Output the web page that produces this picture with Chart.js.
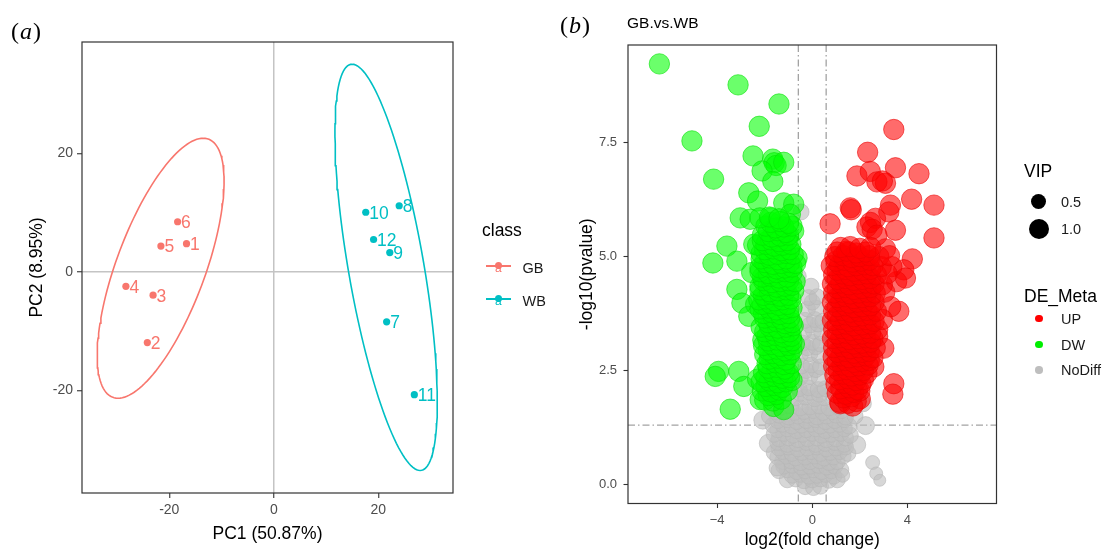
<!DOCTYPE html>
<html>
<head>
<meta charset="utf-8">
<title>PCA / volcano GB vs WB</title>
<script src="https://cdn.jsdelivr.net/npm/chart.js@4.4.1/dist/chart.umd.min.js"></script>
<style>
body{margin:0;background:#fff;font-family:"Liberation Sans",Arial,sans-serif;}
#page{position:relative;width:1108px;height:556px;overflow:hidden;background:#fff;}
#cA{position:absolute;left:0;top:0;}
#cB{position:absolute;left:555px;top:0;}
.t{position:absolute;white-space:nowrap;}
.panel{font-family:"Liberation Serif","Times New Roman",serif;font-size:24px;line-height:30px;color:#000;letter-spacing:1px;}
.ltitle{font-size:17.5px;line-height:22px;color:#000;}
.ltext{font-size:14.5px;line-height:20px;color:#1a1a1a;}
.dot{position:absolute;border-radius:50%;}
.kline{position:absolute;height:2px;}
.ka{position:absolute;font-size:12px;line-height:12px;}
</style>
</head>
<body>
<div id="page">
  <canvas id="cA" width="555" height="556"></canvas>
  <canvas id="cB" width="553" height="556"></canvas>

  <div class="t panel" style="left:11px;top:16px;">(<i>a</i>)</div>
  <div class="t panel" style="left:560px;top:10px;">(<i>b</i>)</div>
  <div class="t" style="left:627px;top:13px;font-size:15.5px;line-height:20px;color:#000;">GB.vs.WB</div>

  <!-- legend of panel a -->
  <div class="t ltitle" style="left:482px;top:219px;">class</div>
  <div class="kline" style="left:486px;top:264.5px;width:25px;background:#F8766D;"></div>
  <div class="dot" style="left:494.5px;top:261.5px;width:7.5px;height:7.5px;background:#F8766D;"></div>
  <div class="ka" style="left:495px;top:262px;color:#F8766D;">a</div>
  <div class="t ltext" style="left:522.5px;top:257.5px;">GB</div>
  <div class="kline" style="left:486px;top:297.5px;width:25px;background:#00BFC4;"></div>
  <div class="dot" style="left:494.5px;top:294.5px;width:7.5px;height:7.5px;background:#00BFC4;"></div>
  <div class="ka" style="left:495px;top:295px;color:#00BFC4;">a</div>
  <div class="t ltext" style="left:522.5px;top:291px;">WB</div>

  <!-- legends of panel b -->
  <div class="t ltitle" style="left:1024px;top:159.5px;">VIP</div>
  <div class="dot" style="left:1031px;top:194px;width:15px;height:15px;background:#000;"></div>
  <div class="t ltext" style="left:1061px;top:192px;">0.5</div>
  <div class="dot" style="left:1028.5px;top:219px;width:20px;height:20px;background:#000;"></div>
  <div class="t ltext" style="left:1061px;top:219px;">1.0</div>

  <div class="t ltitle" style="left:1024px;top:284.5px;">DE_Meta</div>
  <div class="dot" style="left:1035px;top:314.5px;width:7.5px;height:7.5px;background:#FF0000;"></div>
  <div class="t ltext" style="left:1061px;top:308.5px;">UP</div>
  <div class="dot" style="left:1035px;top:340.5px;width:7.5px;height:7.5px;background:#00EE00;"></div>
  <div class="t ltext" style="left:1061px;top:334.5px;">DW</div>
  <div class="dot" style="left:1035px;top:366px;width:7.5px;height:7.5px;background:#BEBEBE;"></div>
  <div class="t ltext" style="left:1061px;top:360px;">NoDiff</div>
</div>

<script>
// ---------- panel (a): PCA scores ----------
var gbLabels = ['1','2','3','4','5','6'];
var gbPC1 = [-16.7, -24.2, -23.1, -28.3, -21.6, -18.4];
var gbPC2 = [4.8, -11.9, -3.9, -2.4, 4.4, 8.5];
var wbLabels = ['7','8','9','10','11','12'];
var wbPC1 = [21.6, 24.0, 22.2, 17.6, 26.9, 19.1];
var wbPC2 = [-8.4, 11.2, 3.3, 10.1, -20.7, 5.5];
// ellipses: centre x, centre y, half axis to top point (dx, dy), half width at centre height
var gbEllipse = [-21.65, 0.65, 8.15, 21.95, 9.0];
var wbEllipse = [21.5, 0.8, -6.5, 34.3, 7.33];
var pcaTicks = [-20, 0, 20];

// ---------- panel (b): volcano ----------
var fcCut = 0.585;   // log2(1.5)
var pCut = 1.301;    // -log10(0.05)
var volXTicks = [-4, 0, 4];
var volYTicks = [0, 2.5, 5, 7.5];

var upPoints = [
  [3.43,7.79],[2.33,7.29],[1.88,6.77],[2.44,6.87],[3.50,6.95],[4.49,6.82],[2.72,6.64],[3.08,6.61],[2.95,6.66],
  [4.18,6.26],[5.12,6.13],[1.60,6.07],[1.64,6.03],[3.29,6.13],[0.75,5.72],[3.22,5.98],[2.66,5.84],[2.30,5.65],
  [2.45,5.75],[2.52,5.60],[3.50,5.58],[5.12,5.41],[2.72,5.47],[4.21,4.95],[3.08,5.17],[1.53,5.10],[3.85,4.71],
  [3.55,4.45],[3.92,4.53],[3.35,4.78],[3.64,3.80],[3.30,3.90],[3.43,2.21],[3.39,1.98],[3.01,2.99],[2.59,2.58],
  [2.75,3.25],[2.02,1.88],[1.18,1.77],[1.70,1.72],
  [1.15,1.80],[1.50,1.78],[1.85,1.82],[1.30,1.90],[1.65,1.92],
  [1.05,2.00],[1.40,1.98],[1.75,2.02],[2.00,2.05],[1.20,2.10],[1.55,2.12],[1.90,2.08],
  [1.00,2.20],[1.35,2.22],[1.70,2.18],[2.05,2.20],[1.15,2.30],[1.50,2.32],[1.85,2.28],[2.15,2.30],
  [0.95,2.40],[1.30,2.42],[1.65,2.38],[2.00,2.40],[2.30,2.44],[1.10,2.50],[1.45,2.52],[1.80,2.48],[2.15,2.50],
  [0.90,2.60],[1.25,2.62],[1.60,2.58],[1.95,2.60],[2.35,2.62],[1.05,2.70],[1.40,2.72],[1.75,2.68],[2.10,2.70],[2.40,2.72],
  [0.88,2.80],[1.20,2.82],[1.55,2.78],[1.90,2.80],[2.25,2.82],[2.55,2.78],[1.05,2.90],[1.40,2.92],[1.75,2.88],[2.10,2.90],[2.40,2.92],
  [0.90,3.00],[1.25,3.02],[1.60,2.98],[1.95,3.00],[2.30,3.02],[2.65,3.00],[1.05,3.10],[1.40,3.12],[1.75,3.08],[2.10,3.10],[2.45,3.12],
  [0.85,3.20],[1.20,3.22],[1.55,3.18],[1.90,3.20],[2.25,3.22],[2.55,3.20],[1.05,3.30],[1.40,3.32],[1.75,3.28],[2.10,3.30],[2.45,3.32],
  [0.90,3.40],[1.25,3.42],[1.60,3.38],[1.95,3.40],[2.30,3.42],[2.75,3.40],[1.05,3.50],[1.40,3.52],[1.75,3.48],[2.10,3.50],[2.45,3.52],
  [0.85,3.60],[1.20,3.62],[1.55,3.58],[1.90,3.60],[2.25,3.62],[2.60,3.58],[2.95,3.62],[1.05,3.70],[1.40,3.72],[1.75,3.68],[2.10,3.70],[2.45,3.72],
  [0.90,3.80],[1.25,3.82],[1.60,3.78],[1.95,3.80],[2.30,3.82],[2.70,3.80],[1.05,3.90],[1.40,3.92],[1.75,3.88],[2.10,3.90],[2.45,3.92],
  [0.85,4.00],[1.20,4.02],[1.55,3.98],[1.90,4.00],[2.25,4.02],[2.60,4.00],[1.05,4.10],[1.40,4.12],[1.75,4.08],[2.10,4.10],[2.45,4.12],
  [0.90,4.20],[1.25,4.22],[1.60,4.18],[1.95,4.20],[2.30,4.22],[2.65,4.20],[3.05,4.22],[1.05,4.30],[1.40,4.32],[1.75,4.28],[2.10,4.30],[2.45,4.32],
  [0.85,4.40],[1.20,4.42],[1.55,4.38],[1.90,4.40],[2.25,4.42],[2.60,4.40],[2.95,4.38],[1.05,4.50],[1.40,4.52],[1.75,4.48],[2.10,4.50],[2.45,4.52],
  [0.90,4.60],[1.25,4.62],[1.60,4.58],[1.95,4.60],[2.30,4.62],[2.70,4.60],[3.15,4.62],[1.05,4.70],[1.40,4.72],[1.75,4.68],[2.10,4.70],[2.45,4.72],
  [0.80,4.80],[1.15,4.82],[1.50,4.78],[1.85,4.80],[2.20,4.82],[2.55,4.80],[2.90,4.78],[1.00,4.90],[1.35,4.92],[1.70,4.88],[2.05,4.90],[2.40,4.92],
  [0.95,5.00],[1.30,5.02],[1.65,4.98],[2.00,5.00],[2.40,5.02],[2.80,5.00],[3.25,5.02],[1.05,5.10],[1.45,5.12],[1.85,5.08],[2.25,5.10],
  [1.20,5.20],[1.60,5.22],[2.00,5.18],[2.45,5.20]
];

var dwPoints = [
  [-6.43,9.23],[-3.12,8.77],[-1.40,8.35],[-2.23,7.86],[-5.06,7.54],[-2.49,7.21],[-1.66,7.14],[-1.60,7.06],
  [-1.52,7.00],[-1.20,7.07],[-2.11,6.88],[-1.66,6.65],[-4.15,6.70],[-2.67,6.40],[-2.30,6.22],[-1.20,6.18],
  [-0.78,6.15],[-3.03,5.85],[-2.61,5.82],[-1.76,5.85],[-0.92,5.93],[-1.48,5.63],[-3.59,5.23],[-4.18,4.86],
  [-3.17,4.90],[-2.46,5.27],[-1.90,5.34],[-0.78,5.56],[-0.64,4.97],[-3.17,4.28],[-2.96,3.98],[-2.67,3.69],
  [-2.38,3.95],[-3.94,2.48],[-4.08,2.37],[-3.09,2.48],[-2.88,2.15],[-3.45,1.65],[-1.62,1.71],[-1.20,1.64],
  [-2.19,1.86],[-2.30,2.31],[-2.08,3.17],[-1.78,2.85],
  [-2.00,1.85],[-1.65,1.83],[-1.30,1.87],[-1.85,1.95],[-1.50,1.97],
  [-2.10,2.05],[-1.75,2.03],[-1.40,2.07],[-1.05,2.05],[-1.95,2.15],[-1.60,2.17],[-1.25,2.13],
  [-2.15,2.25],[-1.80,2.27],[-1.45,2.23],[-1.10,2.25],[-0.85,2.28],[-1.95,2.35],[-1.60,2.37],[-1.25,2.33],[-0.95,2.35],
  [-2.05,2.45],[-1.70,2.47],[-1.35,2.43],[-1.00,2.45],[-1.85,2.55],[-1.50,2.57],[-1.15,2.53],
  [-1.90,2.65],[-1.55,2.67],[-1.20,2.63],[-0.88,2.65],[-1.80,2.75],[-1.45,2.77],[-1.10,2.73],
  [-2.00,2.85],[-1.65,2.87],[-1.30,2.83],[-0.95,2.85],[-1.85,2.95],[-1.50,2.97],[-1.15,2.93],[-0.85,2.95],
  [-2.05,3.05],[-1.70,3.07],[-1.35,3.03],[-1.00,3.05],[-0.75,3.08],[-1.85,3.15],[-1.50,3.17],[-1.15,3.13],[-0.85,3.15],
  [-1.90,3.25],[-1.55,3.27],[-1.20,3.23],[-0.88,3.25],[-2.00,3.35],[-1.65,3.37],[-1.30,3.33],[-0.95,3.35],
  [-2.15,3.45],[-1.80,3.47],[-1.45,3.43],[-1.10,3.45],[-0.80,3.48],[-1.85,3.55],[-1.50,3.57],[-1.15,3.53],[-0.85,3.55],
  [-2.00,3.65],[-1.65,3.67],[-1.30,3.63],[-0.95,3.65],[-2.05,3.75],[-1.70,3.77],[-1.35,3.73],[-1.00,3.75],
  [-2.20,3.85],[-1.85,3.87],[-1.50,3.83],[-1.15,3.85],[-0.85,3.88],[-2.10,3.95],[-1.75,3.97],[-1.40,3.93],[-1.05,3.95],
  [-2.25,4.05],[-1.95,4.07],[-1.60,4.03],[-1.25,4.05],[-0.90,4.07],[-2.05,4.15],[-1.70,4.17],[-1.35,4.13],[-1.00,4.15],
  [-2.20,4.27],[-1.80,4.23],[-1.45,4.25],[-1.10,4.27],[-0.78,4.25],[-2.20,4.35],[-1.85,4.37],[-1.50,4.33],[-1.15,4.35],[-0.85,4.37],
  [-2.05,4.47],[-1.70,4.43],[-1.35,4.45],[-1.00,4.47],[-0.72,4.45],[-2.10,4.55],[-1.75,4.57],[-1.40,4.53],[-1.05,4.55],
  [-2.55,4.65],[-2.20,4.67],[-1.85,4.63],[-1.50,4.65],[-1.15,4.67],[-0.85,4.65],[-2.20,4.75],[-1.85,4.77],[-1.50,4.73],[-1.15,4.75],[-0.85,4.77],
  [-2.00,4.87],[-1.65,4.83],[-1.30,4.85],[-0.95,4.87],[-0.70,4.85],[-2.15,4.95],[-1.80,4.97],[-1.45,4.93],[-1.10,4.95],
  [-2.15,5.07],[-1.80,5.03],[-1.45,5.05],[-1.10,5.07],[-0.80,5.05],[-2.00,5.15],[-1.65,5.17],[-1.30,5.13],[-0.95,5.15],
  [-2.30,5.25],[-1.95,5.27],[-1.60,5.23],[-1.25,5.25],[-0.90,5.27],[-2.10,5.35],[-1.75,5.37],[-1.40,5.33],[-1.05,5.35],
  [-2.10,5.47],[-1.70,5.43],[-1.35,5.45],[-1.00,5.47],[-1.85,5.55],[-1.45,5.57],[-1.10,5.53],
  [-1.95,5.67],[-1.55,5.63],[-1.20,5.65],[-0.85,5.67],[-1.75,5.75],[-1.35,5.77],[-1.00,5.73],
  [-2.20,5.85],[-1.80,5.87],[-1.40,5.83]
];

// third value = point radius where it differs from the usual one
var noDiffPoints = [
  [-0.30,-0.05],[0.05,-0.07],[0.35,-0.04],
  [-1.05,0.10],[-0.70,0.12],[-0.35,0.08],[0.00,0.10],[0.35,0.12],[0.70,0.09],[1.05,0.10],
  [-0.85,0.20],[-0.50,0.22],[-0.15,0.18],[0.20,0.20],[0.55,0.22],[0.90,0.18],
  [-1.40,0.30],[-1.05,0.32],[-0.65,0.28],[-0.30,0.30],[0.05,0.32],[0.40,0.28],[0.80,0.30],[1.20,0.32],
  [-1.20,0.40],[-0.85,0.42],[-0.45,0.38],[-0.10,0.40],[0.25,0.42],[0.60,0.38],[0.95,0.40],
  [-1.25,0.50],[-0.90,0.52],[-0.50,0.48],[-0.10,0.50],[0.30,0.52],[0.70,0.48],[1.05,0.50],
  [-1.45,0.60],[-1.10,0.62],[-0.70,0.58],[-0.30,0.60],[0.10,0.62],[0.50,0.58],[0.90,0.60],[1.30,0.62],
  [-1.60,0.70],[-1.25,0.72],[-0.85,0.68],[-0.45,0.70],[-0.05,0.72],[0.35,0.68],[0.75,0.70],[1.15,0.72],[1.50,0.68],
  [-1.40,0.80],[-1.00,0.82],[-0.60,0.78],[-0.20,0.80],[0.20,0.82],[0.60,0.78],[1.00,0.80],[1.40,0.82],
  [-1.85,0.90,9],[-1.45,0.92],[-1.05,0.88],[-0.65,0.90],[-0.25,0.92],[0.15,0.88],[0.55,0.90],[0.95,0.92],[1.35,0.88],[1.87,0.87,9],
  [-1.40,1.00],[-1.00,1.02],[-0.60,0.98],[-0.20,1.00],[0.20,1.02],[0.60,0.98],[1.00,1.00],[1.40,1.02],
  [-1.60,1.10],[-1.20,1.12],[-0.80,1.08],[-0.40,1.10],[0.00,1.12],[0.40,1.08],[0.80,1.10],[1.20,1.12],[1.60,1.08],
  [-1.45,1.20],[-1.05,1.22],[-0.65,1.18],[-0.25,1.20],[0.15,1.22],[0.55,1.18],[0.95,1.20],[1.35,1.22],
  [-2.08,1.41,9],[-1.65,1.30],[-1.25,1.32],[-0.85,1.28],[-0.45,1.30],[-0.05,1.32],[0.35,1.28],[0.75,1.30],[1.15,1.32],[1.55,1.28],[2.24,1.29,9],
  [-1.45,1.40],[-1.05,1.42],[-0.65,1.38],[-0.25,1.40],[0.15,1.42],[0.55,1.38],[0.95,1.40],[1.35,1.42],
  [-1.80,1.50],[-1.40,1.52],[-1.00,1.48],[-0.60,1.50],[-0.20,1.52],[0.20,1.48],[0.60,1.50],[1.00,1.52],[1.40,1.48],[1.80,1.50],
  [-1.55,1.60],[-1.15,1.62],[-0.75,1.58],[-0.35,1.60],[0.05,1.62],[0.45,1.58],[0.85,1.60],[1.25,1.62],
  [-1.30,1.70],[-0.90,1.72],[-0.50,1.68],[-0.10,1.70],[0.30,1.72],[0.70,1.68],[1.10,1.70],[2.15,1.77],
  [-0.70,1.90],[-0.30,1.92],[0.10,1.88],[0.50,1.90],[-0.50,2.00],[-0.10,2.02],[0.30,1.98],
  [-0.55,2.10],[-0.15,2.12],[0.25,2.08],[0.55,2.10],
  [-0.50,2.35],[-0.10,2.37],[0.30,2.33],[-0.25,2.50],[0.15,2.52],
  [-0.45,2.60],[-0.05,2.62],[0.35,2.58],
  [-0.50,2.85],[-0.10,2.87],[0.30,2.83],[-0.20,3.00],[0.15,3.02],
  [-0.40,3.10],[0.00,3.12],[0.35,3.08],
  [-0.35,3.35],[0.05,3.37],[0.40,3.33],[-0.10,3.50],[0.25,3.52],
  [-0.30,3.60],[0.10,3.62],[0.45,3.58],
  [-0.20,3.85],[0.15,3.87],[0.00,4.00],
  [-0.15,4.10],[0.20,4.12],
  [-0.05,4.35],[-0.59,4.57],[-0.47,5.98],
  [-1.48,0.36],[1.28,0.20,7],[2.54,0.48,7],[2.69,0.24,6.5],[2.84,0.09,6]
];

Chart.defaults.font.family = '"Liberation Sans", Arial, sans-serif';

function toXY(list){
  return list.map(function(p){ return {x:p[0], y:p[1], r:p[2]}; });
}
function toXY2(xs, ys){
  var out = [];
  for(var i=0;i<xs.length;i++){ out.push({x:xs[i], y:ys[i]}); }
  return out;
}
function ellipsePath(e){
  var pts = [];
  for(var i=0;i<=144;i++){
    var t = i/144*2*Math.PI;
    pts.push({x:e[0]+e[2]*Math.cos(t)+e[4]*Math.sin(t), y:e[1]+e[3]*Math.cos(t)});
  }
  return pts;
}
function fixTicks(list){
  return function(scale){ scale.ticks = list.map(function(v){ return {value:v}; }); };
}

// frame round the panel, drawn on top like ggplot's panel.border
var panelBox = {
  id:'panelBox',
  afterDraw: function(chart){
    var a = chart.chartArea, ctx = chart.ctx;
    ctx.save();
    ctx.strokeStyle = '#333333';
    ctx.lineWidth = 1.2;
    ctx.strokeRect(a.left, a.top, a.right-a.left, a.bottom-a.top);
    ctx.restore();
  }
};

// sample numbers next to the PCA points
var pointLabels = {
  id:'pointLabels',
  afterDatasetsDraw: function(chart){
    var ctx = chart.ctx;
    chart.data.datasets.forEach(function(ds, i){
      if(!ds.ids) return;
      var meta = chart.getDatasetMeta(i);
      ctx.save();
      ctx.fillStyle = ds.backgroundColor;
      ctx.font = '17.5px "Liberation Sans", Arial, sans-serif';
      ctx.textAlign = 'left';
      ctx.textBaseline = 'middle';
      meta.data.forEach(function(pt, j){
        ctx.fillText(ds.ids[j], pt.x+3.5, pt.y+1.5);
      });
      ctx.restore();
    });
  }
};

// fold change / p value cut lines
var cutLines = {
  id:'cutLines',
  beforeDatasetsDraw: function(chart){
    var xs = chart.scales.x, ys = chart.scales.y, a = chart.chartArea, ctx = chart.ctx;
    ctx.save();
    ctx.strokeStyle = '#a3a3a3';
    ctx.lineWidth = 1.3;
    ctx.setLineDash([7,3,1.5,3]);
    [-fcCut, fcCut].forEach(function(v){
      var px = xs.getPixelForValue(v);
      ctx.beginPath(); ctx.moveTo(px, a.top); ctx.lineTo(px, a.bottom); ctx.stroke();
    });
    var py = ys.getPixelForValue(pCut);
    ctx.beginPath(); ctx.moveTo(a.left, py); ctx.lineTo(a.right, py); ctx.stroke();
    ctx.restore();
  }
};

function zeroLine(c){
  return (c.tick && c.tick.value === 0) ? '#c4c4c4' : 'rgba(0,0,0,0)';
}

// ---------- chart A ----------
new Chart(document.getElementById('cA'), {
  type:'scatter',
  data:{
    datasets:[
      { label:'GB', data:toXY2(gbPC1, gbPC2), ids:gbLabels, pointRadius:3.6, backgroundColor:'#F8766D', borderColor:'#F8766D', borderWidth:0 },
      { label:'WB', data:toXY2(wbPC1, wbPC2), ids:wbLabels, pointRadius:3.6, backgroundColor:'#00BFC4', borderColor:'#00BFC4', borderWidth:0 },
      { label:'GB ellipse', data:ellipsePath(gbEllipse), showLine:true, pointRadius:0, borderColor:'#F8766D', borderWidth:1.6, tension:0 },
      { label:'WB ellipse', data:ellipsePath(wbEllipse), showLine:true, pointRadius:0, borderColor:'#00BFC4', borderWidth:1.6, tension:0 }
    ]
  },
  options:{
    responsive:false,
    animation:false,
    events:[],
    layout:{ padding:{ left:0, top:42, right:102, bottom:0 } },
    plugins:{ legend:{display:false}, tooltip:{enabled:false} },
    scales:{
      x:{
        type:'linear', min:-36.7, max:34.3,
        afterBuildTicks: fixTicks(pcaTicks),
        afterFit: function(s){ s.height = 63; },
        border:{ display:false },
        grid:{ color:zeroLine, lineWidth:1.5, tickColor:'#333333', tickLength:5, tickWidth:1.1 },
        ticks:{ color:'#4d4d4d', font:{size:14}, padding:3.5, maxRotation:0 },
        title:{ display:true, text:'PC1 (50.87%)', color:'#000', font:{size:17.5}, padding:{top:0, bottom:11} }
      },
      y:{
        type:'linear', min:-37.3, max:38.85,
        afterBuildTicks: fixTicks(pcaTicks),
        afterFit: function(s){ s.width = 82; },
        border:{ display:false },
        grid:{ color:zeroLine, lineWidth:1.5, tickColor:'#333333', tickLength:5, tickWidth:1.1 },
        ticks:{ color:'#4d4d4d', font:{size:14}, padding:4 },
        title:{ display:true, text:'PC2 (8.95%)', color:'#000', font:{size:17.5}, padding:{top:27, bottom:0} }
      }
    }
  },
  plugins:[pointLabels, panelBox]
});

// ---------- chart B ----------
new Chart(document.getElementById('cB'), {
  type:'scatter',
  data:{
    datasets:[
      { label:'UP', data:toXY(upPoints), order:1, pointRadius:10.2,
        backgroundColor:'rgba(255,0,0,0.58)', borderColor:'rgba(235,0,0,0.6)', borderWidth:1 },
      { label:'DW', data:toXY(dwPoints), order:1, pointRadius:10.2,
        backgroundColor:'rgba(0,255,0,0.58)', borderColor:'rgba(0,225,0,0.6)', borderWidth:1 },
      { label:'NoDiff', data:toXY(noDiffPoints), order:3,
        pointRadius:function(c){ return (c.raw && c.raw.r) ? c.raw.r : 8; },
        backgroundColor:'rgba(190,190,190,0.62)', borderColor:'rgba(182,182,182,0.6)', borderWidth:1 }
    ]
  },
  options:{
    responsive:false,
    animation:false,
    events:[],
    layout:{ padding:{ left:0, top:45, right:111.5, bottom:0 } },
    plugins:{ legend:{display:false}, tooltip:{enabled:false} },
    scales:{
      x:{
        type:'linear', min:-7.75, max:7.75,
        afterBuildTicks: fixTicks(volXTicks),
        afterFit: function(s){ s.height = 52.5; },
        border:{ display:false },
        grid:{ drawOnChartArea:false, tickColor:'#333333', tickLength:4.5, tickWidth:1.1 },
        ticks:{ color:'#4d4d4d', font:{size:13}, padding:4.8, maxRotation:0,
          callback:function(v){ return v < 0 ? '\u2212' + Math.abs(v) : String(v); } },
        title:{ display:true, text:'log2(fold change)', color:'#000', font:{size:17.5}, padding:{top:0, bottom:5.5} }
      },
      y:{
        type:'linear', min:-0.42, max:9.645,
        afterBuildTicks: fixTicks(volYTicks),
        afterFit: function(s){ s.width = 73; },
        border:{ display:false },
        grid:{ drawOnChartArea:false, tickColor:'#333333', tickLength:4.5, tickWidth:1.1 },
        ticks:{ color:'#4d4d4d', font:{size:13}, padding:6.5,
          callback:function(v){ return Number(v).toFixed(1); } },
        title:{ display:true, text:'-log10(pvalue)', color:'#000', font:{size:17.5}, padding:{top:21.5, bottom:0} }
      }
    }
  },
  plugins:[cutLines, panelBox]
});
</script>
</body>
</html>
